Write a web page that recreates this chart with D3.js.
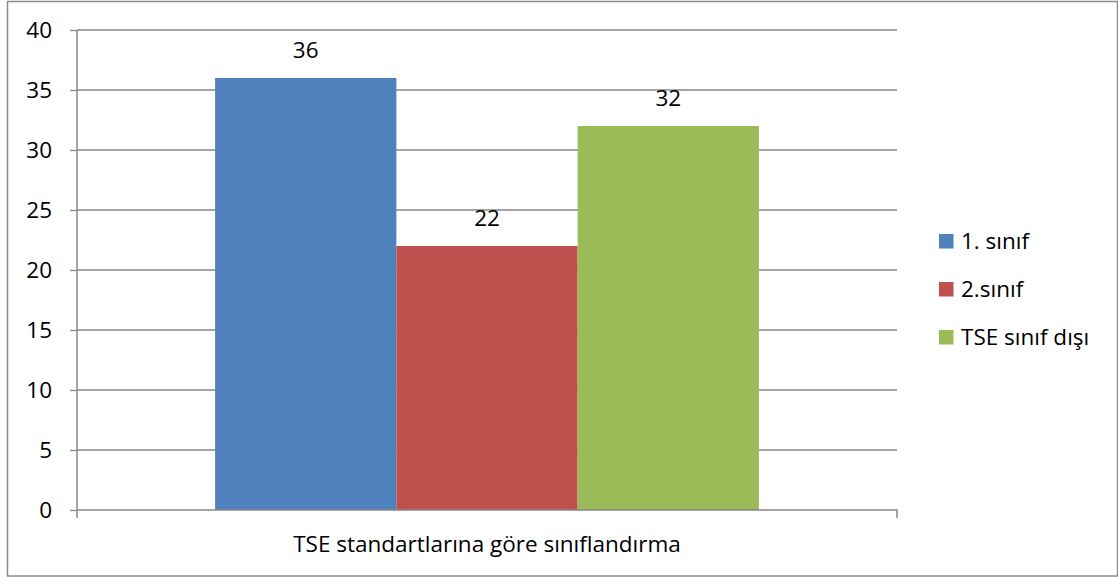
<!DOCTYPE html>
<html>
<head>
<meta charset="utf-8">
<script src="https://cdn.jsdelivr.net/npm/d3@7"></script>
<style>
  body { margin: 0; background: #fff; }
  text { font-family: "Open Sans", sans-serif; fill: #000; }
</style>
</head>
<body>
<svg id="chart"></svg>
<script>
// data
const category = "TSE standartlarına göre sınıflandırma";
const seriesNames = ["1. sınıf", "2.sınıf", "TSE sınıf dışı"];
const seriesValues = [36, 22, 32];
const seriesColors = ["#4F81BD", "#C0504D", "#9BBB59"];
const yTicks = [0, 5, 10, 15, 20, 25, 30, 35, 40];

const width = 1118, height = 577;
const margin = { top: 30, right: 221, bottom: 67, left: 77 };
const innerW = width - margin.left - margin.right;
const innerH = height - margin.top - margin.bottom;
const fontSize = "22.5px";

const svg = d3.select("#chart").attr("width", width).attr("height", height);

// outer frame
svg.append("rect")
    .attr("x", 7.5).attr("y", 1.5)
    .attr("width", 1110).attr("height", 574.5)
    .attr("fill", "none").attr("stroke", "#8c8c8c").attr("stroke-width", 1.5);

const g = svg.append("g").attr("transform", `translate(${margin.left}, ${margin.top})`);

const x0 = d3.scaleBand().domain([category]).range([0, innerW]).paddingInner(0).paddingOuter(0.254);
const x1 = d3.scaleBand().domain(seriesNames).range([0, x0.bandwidth()]);
const y = d3.scaleLinear().domain([0, 40]).range([innerH, 0]);

// gridlines
g.selectAll("line.grid")
    .data(yTicks.filter(d => d > 0))
    .join("line")
    .attr("class", "grid")
    .attr("x1", 0).attr("x2", innerW)
    .attr("y1", d => y(d)).attr("y2", d => y(d))
    .attr("stroke", "#868686").attr("stroke-width", 1.3);

// y axis
const yAxis = g.append("g")
    .call(d3.axisLeft(y).tickValues(yTicks).tickSize(7).tickPadding(18));
yAxis.select(".domain").attr("stroke", "#868686").attr("stroke-width", 1.5).attr("d", `M0,${innerH + 8}V0`);
yAxis.selectAll(".tick line").attr("stroke", "#868686").attr("stroke-width", 1.3);
yAxis.selectAll(".tick text").style("font-size", fontSize).attr("fill", "#000");

// bars
const bars = g.append("g").attr("transform", `translate(${x0(category)}, 0)`);
bars.selectAll("rect")
    .data(seriesNames)
    .join("rect")
    .attr("x", d => x1(d))
    .attr("y", (d, i) => y(seriesValues[i]))
    .attr("width", x1.bandwidth())
    .attr("height", (d, i) => innerH - y(seriesValues[i]))
    .attr("fill", (d, i) => seriesColors[i]);

bars.selectAll("text.value")
    .data(seriesNames)
    .join("text")
    .attr("class", "value")
    .attr("x", d => x1(d) + x1.bandwidth() / 2)
    .attr("y", (d, i) => y(seriesValues[i]) - 20)
    .attr("text-anchor", "middle")
    .style("font-size", fontSize)
    .text((d, i) => seriesValues[i]);

// x axis
const xAxis = g.append("g").attr("transform", `translate(0, ${innerH})`)
    .call(d3.axisBottom(x0).tickSize(0).tickPadding(26));
xAxis.select(".domain").attr("stroke", "#868686").attr("stroke-width", 1.5)
    .attr("d", `M0,0H${innerW}V8`);
xAxis.selectAll(".tick text").style("font-size", fontSize).attr("fill", "#000");

// legend
const legend = svg.append("g").attr("transform", "translate(939, 234)");
const item = legend.selectAll("g")
    .data(seriesNames)
    .join("g")
    .attr("transform", (d, i) => `translate(0, ${i * 48})`);
item.append("rect")
    .attr("width", 14.5).attr("height", 14.5)
    .attr("fill", (d, i) => seriesColors[i]);
item.append("text")
    .attr("x", 22).attr("y", 14.5)
    .style("font-size", fontSize)
    .text(d => d);
</script>
</body>
</html>
